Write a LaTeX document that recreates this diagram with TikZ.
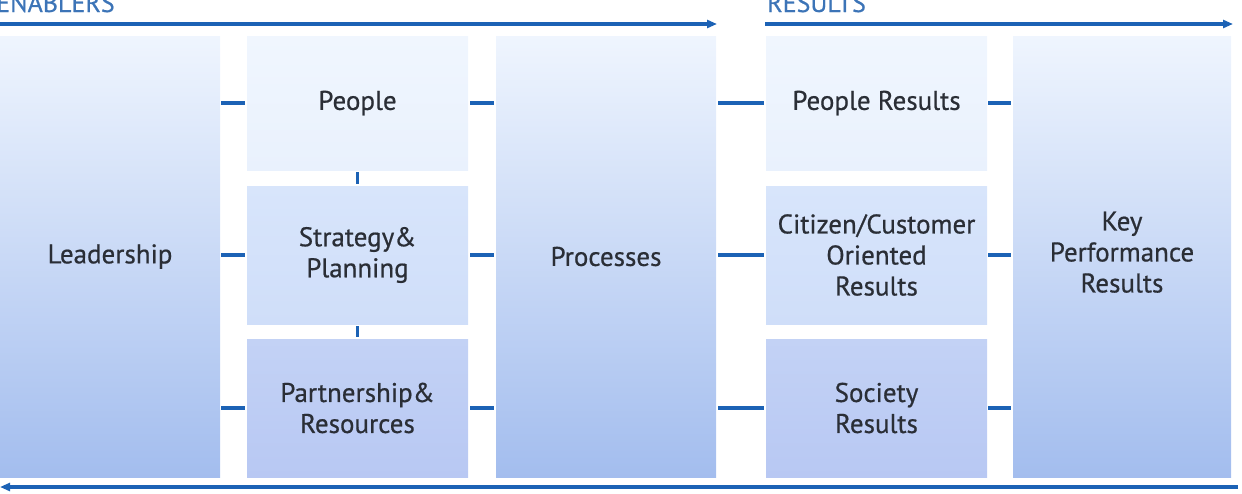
\documentclass[tikz,border=0pt]{standalone}
\usepackage{fontspec}
\setmainfont{PT Sans}
\newfontfamily\boxfont[FakeBold=0.6]{PT Sans}
\usetikzlibrary{arrows.meta}
\definecolor{lineblue}{HTML}{1C62B5}
\definecolor{headblue}{HTML}{3C74B7}
\definecolor{txt}{HTML}{2A2E36}
\definecolor{tallTop}{HTML}{EFF5FE}
\definecolor{tallBot}{HTML}{A3BDEE}
\definecolor{aTop}{HTML}{F0F6FE}
\definecolor{aBot}{HTML}{E9F1FD}
\definecolor{bTop}{HTML}{D8E5FB}
\definecolor{bBot}{HTML}{CFDEF9}
\definecolor{cTop}{HTML}{C3D2F5}
\definecolor{cBot}{HTML}{B8C8F3}
\begin{document}
\begin{tikzpicture}[x=1pt,y=-1pt,
  box/.style={rectangle, draw=none, inner sep=0pt, align=center,
    text=txt, font=\boxfont\fontsize{27}{31}\selectfont},
  tallbox/.style={box, minimum width=220pt, minimum height=441pt,
    top color=tallTop, bottom color=tallBot},
  boxa/.style={box, minimum width=221pt, minimum height=134pt,
    top color=aTop, bottom color=aBot},
  boxb/.style={box, minimum width=221pt, minimum height=138pt,
    top color=bTop, bottom color=bBot},
  boxc/.style={box, minimum width=221pt, minimum height=138pt,
    top color=cTop, bottom color=cBot},
  conn/.style={draw=lineblue, line width=4pt},
  flow/.style={draw=lineblue, line width=4.5pt, -{Triangle[length=10pt,width=8pt]}},
  head/.style={text=headblue, font=\boxfont\fontsize{26}{30}\selectfont, inner sep=0pt, anchor=base west}
]
\useasboundingbox (0,0) rectangle (1242,493);
\begin{scope}
\clip (0,0) rectangle (1242,493);
\node[head] (enab) at (-4,12) {ENABLERS};
\node[head] (res) at (767,12) {RESULTS};
\end{scope}
% boxes
\node[tallbox] (lead) at (110,256.5) {Leadership};
\node[boxa] (ppl) at (357.5,103) {People};
\node[boxb] (strat) at (357.5,255) {Strategy\&\\Planning};
\node[boxc] (part) at (357.5,408) {Partnership\&\\Resources};
\node[tallbox] (proc) at (606,256.5) {Processes};
\node[boxa] (pres) at (876.5,103) {People Results};
\node[boxb] (cit) at (876.5,255) {Citizen/Customer\\Oriented\\Results};
\node[boxc] (soc) at (876.5,408) {Society\\Results};
\node[tallbox, minimum width=218pt] (kpr) at (1122,256.5) {Key\\Performance\\Results\\[-22pt]};
% horizontal connectors
\draw[conn] ([xshift=1]lead.east |- ppl.west) -- ([xshift=-2]ppl.west);
\draw[conn] ([xshift=1]lead.east |- strat.west) -- ([xshift=-2]strat.west);
\draw[conn] ([xshift=1]lead.east |- part.west) -- ([xshift=-2]part.west);
\draw[conn] ([xshift=2]ppl.east) -- ([xshift=-2]proc.west |- ppl.east);
\draw[conn] ([xshift=2]strat.east) -- ([xshift=-2]proc.west |- strat.east);
\draw[conn] ([xshift=2]part.east) -- ([xshift=-2]proc.west |- part.east);
\draw[conn] ([xshift=2]proc.east |- pres.west) -- ([xshift=-2]pres.west);
\draw[conn] ([xshift=2]proc.east |- cit.west) -- ([xshift=-2]cit.west);
\draw[conn] ([xshift=2]proc.east |- soc.west) -- ([xshift=-2]soc.west);
\draw[conn] ([xshift=1]pres.east) -- ([xshift=-2]kpr.west |- pres.east);
\draw[conn] ([xshift=1]cit.east) -- ([xshift=-2]kpr.west |- cit.east);
\draw[conn] ([xshift=1]soc.east) -- ([xshift=-2]kpr.west |- soc.east);
% vertical connectors
\draw[conn, line width=3pt] ([yshift=-2]ppl.south) -- ([yshift=2]strat.north);
\draw[conn, line width=3pt] ([yshift=-2]strat.south) -- ([yshift=2]part.north);
% flow arrows
\coordinate (e0) at (0,24);
\coordinate (e1) at (717,24);
\coordinate (r0) at (765,24);
\coordinate (r1) at (1233,24);
\coordinate (b0) at (1238,487);
\coordinate (b1) at (0,487);
\draw[flow] (e0) -- (e1);
\draw[flow] (r0) -- (r1);
\draw[flow] (b0) -- (b1);
\end{tikzpicture}
\end{document}
